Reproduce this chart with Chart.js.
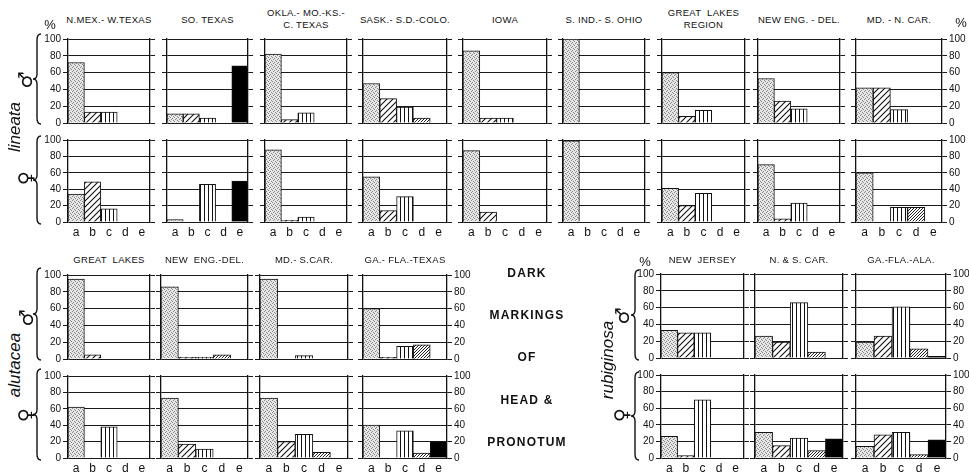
<!DOCTYPE html>
<html>
<head>
<meta charset="utf-8">
<script src="https://cdn.jsdelivr.net/npm/chart.js@4.4.1/dist/chart.umd.min.js"></script>
<style>
  body { margin: 0; background: #fff; width: 969px; height: 475px; position: relative; overflow: hidden;
         font-family: "Liberation Sans", Arial, sans-serif; color: #111; }
  canvas { position: absolute; }
  .t { position: absolute; transform: translate(-50%, -50%); font-size: 9.5px; text-align: center;
       white-space: pre; line-height: 12px; letter-spacing: 0.3px; }
  .sp { position: absolute; transform: translate(-50%, -50%) rotate(-90deg); font-style: italic; font-size: 17px; white-space: nowrap; }
  .sex { position: absolute; transform: translate(-50%, -50%) rotate(-90deg); font-family: "DejaVu Sans", sans-serif; font-size: 19px; }
  .mid { position: absolute; transform: translate(-50%, -50%); font-weight: bold; font-size: 12px; letter-spacing: 1.2px; white-space: nowrap; }
  .pct { position: absolute; transform: translate(-50%, -50%); font-size: 13px; }
  svg { position: absolute; left: 0; top: 0; }
</style>
</head>
<body>
<svg id="braces" width="969" height="475"></svg>
<script>
const categories = ['a', 'b', 'c', 'd', 'e'];
const yTicks = [0, 20, 40, 60, 80, 100];

const lineataRegions = ['N.MEX.- W.TEXAS', 'SO. TEXAS', 'OKLA.- MO.-KS.-\nC. TEXAS', 'SASK.- S.D.-COLO.', 'IOWA',
  'S. IND.- S. OHIO', 'GREAT  LAKES\nREGION', 'NEW ENG. - DEL.', 'MD. - N. CAR.'];
const lineataMale = [
  [72, 13, 13, 0, 0], [11, 11, 6, 0, 68], [82, 4, 12, 0, 0], [47, 29, 19, 6, 0], [86, 6, 6, 0, 0],
  [100, 0, 0, 0, 0], [60, 8, 15, 0, 0], [53, 26, 17, 0, 0], [42, 42, 16, 0, 0]];
const lineataFemale = [
  [34, 49, 16, 0, 0], [3, 0, 46, 0, 50], [88, 2, 6, 0, 0], [55, 14, 31, 0, 0], [87, 12, 0, 0, 0],
  [99, 0, 0, 0, 0], [41, 20, 35, 0, 0], [70, 4, 23, 0, 0], [60, 0, 18, 18, 0]];

const alutaceaRegions = ['GREAT  LAKES', 'NEW  ENG.-DEL.', 'MD.- S.CAR.', 'GA.- FLA.-TEXAS'];
const alutaceaMale = [[95, 5, 0, 0, 0], [86, 2, 2, 5, 0], [95, 0, 4, 0, 0], [60, 2, 15, 17, 0]];
const alutaceaFemale = [[62, 0, 38, 0, 0], [73, 17, 11, 0, 0], [73, 20, 29, 7, 0], [40, 0, 33, 6, 20]];

const rubiginosaRegions = ['NEW  JERSEY', 'N. & S. CAR.', 'GA.-FLA.-ALA.'];
const rubiginosaMale = [[33, 30, 30, 0, 0], [26, 19, 66, 7, 0], [19, 26, 61, 11, 2]];
const rubiginosaFemale = [[26, 3, 70, 0, 0], [31, 15, 24, 9, 23], [14, 28, 31, 4, 22]];

// ---- patterns (a stippled, b hatched, c vertical, d fine hatch, e black)
function tile(w, h, draw) {
  const c = document.createElement('canvas');
  c.width = w; c.height = h;
  const g = c.getContext('2d');
  g.fillStyle = '#fff'; g.fillRect(0, 0, w, h);
  draw(g);
  return g.createPattern(c, 'repeat');
}
const stipple = tile(4, 4, g => {
  g.fillStyle = '#e6e6e6'; g.fillRect(0, 0, 4, 4);
  g.fillStyle = '#8a8a8a';
  [[0, 0], [2, 1], [1, 3], [3, 2]].forEach(p => g.fillRect(p[0], p[1], 1, 1));
});
const hatch = tile(6, 6, g => {
  g.strokeStyle = '#111'; g.lineWidth = 1.1;
  g.beginPath();
  g.moveTo(0, 6); g.lineTo(6, 0);
  g.moveTo(-1, 1); g.lineTo(1, -1);
  g.moveTo(5, 7); g.lineTo(7, 5);
  g.stroke();
});
const vlines = tile(4, 2, g => { g.fillStyle = '#111'; g.fillRect(1, 0, 1, 2); });
const fine = tile(3, 3, g => {
  g.fillStyle = '#222';
  g.fillRect(0, 2, 1, 1); g.fillRect(1, 1, 1, 1); g.fillRect(2, 0, 1, 1);
});
const fills = [stipple, hatch, vlines, fine, '#000'];

// ---- layout
const LW = 28, RW = 28, PT = 8;
function panel(vals, L, T, R, B, opt) {
  const w = R - L, h = B - T;
  const xh = opt.x ? 20 : 8;
  const W = LW + w + RW, H = PT + h + xh;
  const cv = document.createElement('canvas');
  cv.width = W; cv.height = H;
  cv.style.left = (L - LW) + 'px'; cv.style.top = (T - PT) + 'px';
  cv.style.width = W + 'px'; cv.style.height = H + 'px';
  document.body.appendChild(cv);
  const tickFont = { family: '"Liberation Sans", Arial, sans-serif', size: 10 };
  const yAxis = (pos, show, onArea) => ({
    position: pos, min: 0, max: 100,
    afterBuildTicks: s => { s.ticks = yTicks.map(v => ({ value: v })); },
    grid: { color: '#1a1a1a', lineWidth: 1, tickLength: 5, drawOnChartArea: onArea },
    border: { color: '#111', width: 1.3 },
    ticks: { display: show, padding: 2, color: '#111', font: tickFont },
    afterFit: s => { s.width = pos === 'left' ? LW : RW; }
  });
  new Chart(cv, {
    type: 'bar',
    data: {
      labels: categories,
      datasets: [{
        data: vals, backgroundColor: fills, borderColor: '#111', borderWidth: 1,
        barPercentage: 1, categoryPercentage: 1
      }]
    },
    options: {
      responsive: false, animation: false, events: [],
      layout: { padding: { top: PT } },
      plugins: { legend: { display: false }, tooltip: { enabled: false } },
      scales: {
        x: {
          grid: { display: false, drawTicks: false }, border: { display: false },
          ticks: { display: !!opt.x, padding: 3, color: '#111', font: { family: tickFont.family, size: 12 } },
          afterFit: s => { s.height = xh; }
        },
        y: yAxis('left', !!opt.left, true),
        y2: yAxis('right', !!opt.right, false)
      }
    }
  });
}

function text(cls, str, x, y) {
  const d = document.createElement('div');
  d.className = cls; d.textContent = str;
  d.style.left = x + 'px'; d.style.top = y + 'px';
  document.body.appendChild(d);
}

function group(regions, male, female, lefts, rights, rows, titleY, leftLabels, rightLabels) {
  regions.forEach((name, i) => {
    const L = lefts[i], R = rights[i];
    const ml = name.indexOf('\n') >= 0;
    text('t', name, (L + R) / 2, ml ? titleY - 1 : titleY);
    panel(male[i], L, rows[0], R, rows[1], { left: leftLabels && i === 0, right: rightLabels && i === regions.length - 1 });
    panel(female[i], L, rows[2], R, rows[3], { left: leftLabels && i === 0, right: rightLabels && i === regions.length - 1, x: true });
  });
}

group(lineataRegions, lineataMale, lineataFemale,
  [68, 167, 265, 363, 463, 563, 662, 758, 856],
  [150, 248, 347, 447, 547, 645, 745, 840, 942],
  [39, 123, 140, 222], 20, true, true);
group(alutaceaRegions, alutaceaMale, alutaceaFemale,
  [68, 161, 260, 363], [150, 248, 348, 447],
  [275, 359, 376, 458], 260, true, true);
group(rubiginosaRegions, rubiginosaMale, rubiginosaFemale,
  [661, 755, 856], [744, 843, 946],
  [274, 358, 375, 458], 260, true, true);

// ---- labels
text('pct', '%', 50, 24);
text('pct', '%', 961, 22);
text('pct', '%', 645, 261);

text('sp', 'lineata', 15, 127);
text('sp', 'alutacea', 15, 365);
text('sp', 'rubiginosa', 608, 360);
text('sex', '♂', 25, 80);
text('sex', '♀', 25, 178);
text('sex', '♂', 26, 318);
text('sex', '♀', 25, 415);
text('sex', '♂', 622, 316);
text('sex', '♀', 621, 415);

[['DARK', 273], ['MARKINGS', 315], ['OF', 357], ['HEAD &', 400], ['PRONOTUM', 442]]
  .forEach(m => text('mid', m[0], 527, m[1]));

// braces
const svg = document.getElementById('braces');
function brace(x, y1, y2) {
  const m = (y1 + y2) / 2;
  const p = document.createElementNS('http://www.w3.org/2000/svg', 'path');
  p.setAttribute('d', `M${x + 4},${y1} Q${x},${y1} ${x},${y1 + 6} L${x},${m - 5} Q${x},${m} ${x - 4},${m}` +
    ` Q${x},${m} ${x},${m + 5} L${x},${y2 - 6} Q${x},${y2} ${x + 4},${y2}`);
  p.setAttribute('fill', 'none'); p.setAttribute('stroke', '#111'); p.setAttribute('stroke-width', '1.4');
  svg.appendChild(p);
}
brace(37, 34, 124); brace(37, 136, 224);
brace(37, 268, 360); brace(37, 369, 460);
brace(635, 270, 360); brace(635, 372, 460);
</script>
</body>
</html>
